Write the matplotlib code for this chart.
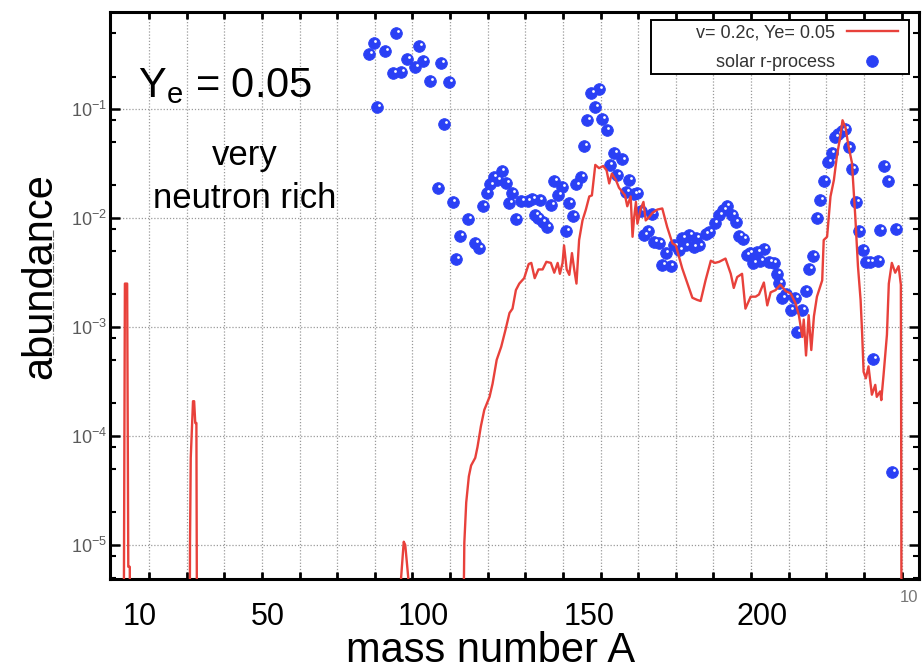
import numpy as np
import matplotlib
matplotlib.use("Agg")
import matplotlib.pyplot as plt
from matplotlib.ticker import FixedLocator, FixedFormatter, NullFormatter
from matplotlib.transforms import offset_copy
from matplotlib.lines import Line2D
from matplotlib.patches import Rectangle

plt.rcParams["font.family"] = ["Liberation Sans", "DejaVu Sans"]
plt.rcParams["mathtext.fontset"] = "custom"
plt.rcParams["mathtext.rm"] = "Liberation Sans"
plt.rcParams["mathtext.it"] = "Liberation Sans:italic"
plt.rcParams["mathtext.bf"] = "Liberation Sans:bold"

# --- model curve (v = 0.2c, Ye = 0.05): mass number and log10(abundance)
# values far below the axis (-9) stand for "off scale" between the spikes
model_A = [
    3.0, 3.6, 4.2, 4.5, 4.9, 5.1,
    20.6, 20.9, 21.1, 21.7, 22.0, 22.3, 22.6, 23.0,
    76.4, 77.0, 77.7, 78.1, 78.9, 79.5,
    92.5, 93.8, 94.3, 95.0, 95.6, 96.7, 97.3, 98.2, 99.1, 100.5, 101.3,
    102.4, 103.6, 104.7, 105.8, 106.6, 107.5,
    108.4, 109.7, 110.9, 111.6, 112.5, 113.5, 114.6, 115.6, 116.8, 117.7,
    118.6, 119.2, 119.9, 120.3, 121.0, 121.7, 122.4, 123.0, 123.6, 124.3,
    125.2, 126.1, 127.0, 127.7, 128.6, 129.6, 130.7, 131.6, 132.3, 133.0,
    134.1, 134.9, 136.5, 137.1, 138.0, 138.5, 138.9, 139.4, 139.8, 140.7,
    141.4, 142.0, 142.9, 143.8, 145.1, 146.4, 147.7, 149.1, 150.0, 150.8,
    151.7, 153.1, 154.4, 155.7, 156.6, 157.9, 159.3, 160.4, 161.5, 163.2,
    164.6, 165.4, 166.3, 167.6, 168.5, 169.9, 171.2, 172.1, 173.4, 174.3,
    175.2, 176.5, 177.8, 179.2, 180.5, 181.8, 182.7, 183.6, 184.0, 184.6,
    185.3, 186.0, 186.7, 187.5, 188.9, 189.3, 190.2, 191.1, 192.0, 192.8,
    193.7, 194.3, 195.1, 195.9, 196.8, 197.7, 198.4, 199.1, 199.5, 199.9,
    200.5, 201.2, 202.1, 203.0, 203.4, 204.3, 204.6, 205.2, 206.1, 206.6,
    207.4, 208.3, 209.2, 209.8, 209.9, 210.1,
]
model_log10 = [
    -9.0, -2.60, -2.60, -5.20, -5.20, -9.0,
    -9.0, -5.0, -4.20, -3.68, -3.68, -3.88, -3.88, -9.0,
    -9.0, -5.30, -4.97, -5.00, -5.30, -9.0,
    -9.0, -4.98, -4.61, -4.37, -4.27, -4.20, -4.10, -3.91, -3.76, -3.64, -3.52,
    -3.30, -3.18, -3.03, -2.87, -2.83, -2.66,
    -2.60, -2.55, -2.42, -2.41, -2.55, -2.47, -2.47, -2.40, -2.41, -2.50,
    -2.41, -2.51, -2.41, -2.25, -2.47, -2.52, -2.32, -2.47, -2.60, -2.20,
    -2.02, -1.92, -1.80, -1.79, -1.51, -1.54, -1.52, -1.56, -1.68, -1.59,
    -1.65, -1.72, -1.79, -1.89, -1.80, -2.17, -2.00, -1.85, -2.05, -1.91,
    -1.85, -2.02, -1.99, -1.95, -1.92, -1.91, -2.08, -2.23, -2.25, -2.35,
    -2.46, -2.60, -2.73, -2.75, -2.76, -2.57, -2.39, -2.41, -2.40, -2.37,
    -2.51, -2.64, -2.54, -2.51, -2.83, -2.72, -2.72, -2.70, -2.59, -2.80,
    -2.68, -2.66, -2.61, -2.67, -2.69, -2.78, -2.89, -3.09, -2.93, -3.26,
    -2.89, -3.21, -2.90, -2.72, -2.57, -2.20, -2.17, -1.80, -1.65, -1.43,
    -1.25, -1.10, -1.17, -1.34, -1.49, -1.99, -2.44, -2.75, -3.05, -3.41,
    -3.47, -3.36, -3.62, -3.53, -3.64, -3.59, -3.67, -3.44, -3.07, -2.60,
    -2.41, -2.50, -2.44, -2.61, -4.25, -9.0,
]

# --- solar r-process abundances: mass number and log10(abundance)
solar_A = [
    68.6, 69.7, 70.7, 72.8, 74.8, 75.7, 77.0, 78.6, 80.7, 81.7, 82.9, 84.8,
    86.7, 87.6, 88.5, 89.8, 90.7, 91.6, 92.7, 94.7, 96.7, 97.8, 98.7, 99.7,
    100.7, 101.6, 102.6, 103.7, 104.9, 105.6, 106.6, 107.6, 108.9, 110.6,
    111.9, 112.6, 113.4, 113.8, 114.6, 115.9, 116.8, 117.7, 118.8, 119.7,
    120.8, 121.7, 122.7, 123.6, 124.8, 125.6, 126.5, 127.4, 128.5, 129.6,
    130.5, 131.6, 132.4, 133.6, 134.5, 135.8, 136.7, 137.6, 138.9, 139.8,
    140.7, 141.6, 142.5, 143.6, 144.2, 145.5, 146.4, 147.3, 148.6, 149.5,
    150.8, 151.7, 152.6, 153.5, 154.7, 155.3, 156.2, 157.9, 158.8, 160.3,
    161.6, 162.5, 163.5, 164.9, 165.9, 166.9, 167.9, 168.8, 169.6, 170.6,
    171.5, 172.4, 173.4, 174.7, 176.0, 177.0, 177.4, 178.3, 179.4, 180.5,
    181.7, 182.3, 183.6, 184.5, 185.5, 186.4, 187.4, 188.4, 189.5, 190.5,
    191.4, 192.3, 193.2, 194.1, 195.0, 195.9, 196.9, 197.8, 198.8, 199.8,
    200.6, 201.7, 202.4, 203.7, 204.3, 205.4, 206.3, 207.5, 208.5,
]
solar_log10 = [
    -0.49, -0.39, -0.98, -0.46, -0.67, -0.30, -0.66, -0.54, -0.61, -0.42, -0.56, -0.74,
    -1.72, -0.57, -1.13, -0.75, -1.85, -2.37, -2.16, -2.01, -2.23, -2.27, -1.89, -1.77,
    -1.69, -1.62, -1.65, -1.57, -1.68, -1.86, -1.77, -2.01, -1.84, -1.84,
    -1.82, -1.97, -2.00, -1.83, -2.03, -2.08, -1.88, -1.66, -1.79, -1.71,
    -2.12, -1.86, -1.98, -1.69, -1.62, -1.34, -1.10, -0.85, -0.98, -0.81,
    -1.09, -1.19, -1.51, -1.40, -1.60, -1.46, -1.76, -1.65, -1.78, -1.77,
    -1.93, -2.15, -2.12, -1.96, -2.22, -2.23, -2.43, -2.32, -2.44, -2.25,
    -2.29, -2.18, -2.25, -2.15, -2.26, -2.18, -2.25, -2.14, -2.13, -2.04,
    -1.97, -1.92, -1.89, -1.97, -2.03, -2.16, -2.19, -2.34, -2.32, -2.41,
    -2.31, -2.39, -2.28, -2.40, -2.41, -2.51, -2.59, -2.73, -2.70, -2.84,
    -2.73, -3.04, -2.84, -2.67, -2.47, -2.35, -2.00, -1.83, -1.66, -1.48,
    -1.40, -1.25, -1.23, -1.20, -1.18, -1.35, -1.55, -1.85, -2.12, -2.29,
    -2.40, -2.40, -3.29, -2.39, -2.11, -1.52, -1.66, -4.33, -2.10,
]

# pasted-on axis labels (they sit where they were pasted, not at their values)
xlabel_A = [7.6, 41.6, 82.9, 127.0, 172.8]
xlabel_text = ["10", "50", "100", "150", "200"]

RED = "#e8413b"
BLUE = "#2a40f5"

fig = plt.figure(figsize=(9.24, 6.70), dpi=100)
ax = fig.add_axes([0.1190, 0.1354, 0.8755, 0.8472])
ax.set_yscale("log")
ax.set_xlim(-0.37, 214.6)
ax.set_ylim(10 ** -5.315, 10 ** -0.103)

solar = 10.0 ** np.array(solar_log10)
ax.plot(model_A, 10.0 ** np.array(model_log10), color=RED, lw=1.7,
        zorder=4, label="v= 0.2c, Ye= 0.05")
ax.plot(solar_A, solar, ls="none", marker="o", ms=8.4, mfc=BLUE, mec=BLUE,
        mew=0.6, zorder=3, label="solar r-process")
hl = offset_copy(ax.transData, fig=fig, x=1.3, y=1.4, units="points")
ax.plot(solar_A, solar, ls="none", marker="o", ms=2.0, mfc="white",
        mec="none", transform=hl, zorder=3.5)

# ticks
ax.xaxis.set_major_locator(FixedLocator(np.arange(10, 215, 10)))
ax.tick_params(axis="x", which="major", direction="in", length=5, width=2,
               top=True, bottom=True, labelbottom=False)
dec = [1e-5, 1e-4, 1e-3, 1e-2, 1e-1]
ax.yaxis.set_major_locator(FixedLocator(dec))
ax.yaxis.set_major_formatter(FixedFormatter([r"$10^{-5}$", r"$10^{-4}$",
                                             r"$10^{-3}$", r"$10^{-2}$",
                                             r"$10^{-1}$"]))
minors = [k * 10.0 ** e for e in range(-6, 0) for k in (2, 5, 8)]
ax.yaxis.set_minor_locator(FixedLocator(minors))
ax.yaxis.set_minor_formatter(NullFormatter())
ax.tick_params(axis="y", which="major", direction="in", length=7, width=1.8,
               left=True, right=True, labelsize=13, labelcolor="#5a5a5a", pad=2)
ax.tick_params(axis="y", which="minor", direction="in", length=4, width=1.5,
               left=True, right=True)

ax.grid(True, which="major", ls=(0, (1, 1.5)), color="#9a9a9a", lw=0.9)
for s in ax.spines.values():
    s.set_linewidth(2.2)

# gnuplot-style key: fixed-width box, text right-aligned, sample on the right
ax.add_patch(Rectangle((0.6687, 0.8902), 0.3189, 0.0952, transform=ax.transAxes,
                       fc="white", ec="black", lw=1.4, zorder=5))
leg = ax.legend(loc="upper right", bbox_to_anchor=(0.974, 0.977),
                borderaxespad=0, borderpad=0, markerfirst=False, frameon=False,
                fontsize=13, labelcolor="#333333", handlelength=2.82,
                handletextpad=0.66, labelspacing=0.68)
leg.set_zorder(6)

# annotations
fig.text(138 / 924, 1 - 97 / 670, r"Y$_{\mathrm{e}}$ = 0.05", fontsize=30,
         ha="left", va="baseline")
fig.text(245 / 924, 1 - 165 / 670, "very", fontsize=25, ha="center",
         va="baseline")
fig.text(245 / 924, 1 - 208 / 670, "neutron rich", fontsize=25, ha="center",
         va="baseline")
fig.text(40 / 924, 1 - 276 / 670, "abundance", fontsize=30, rotation=90,
         ha="center", va="center")
fig.text(491 / 924, 1 - 662 / 670, "mass number A", fontsize=30, ha="center",
         va="baseline")
for a, lab in zip(xlabel_A, xlabel_text):
    ax.text(a, -0.0805, lab, transform=ax.get_xaxis_transform(), fontsize=22,
            ha="center", va="baseline")
fig.text(909 / 924, 1 - 602 / 670, "10", fontsize=12, color="#777777",
         ha="center", va="baseline")
fig.add_artist(Line2D([53 / 924, 53 / 924], [1 - 230 / 670, 1 - 357 / 670],
                      ls="-.", lw=0.8, color="#666666", zorder=0))

fig.savefig("out.png", dpi=100)
